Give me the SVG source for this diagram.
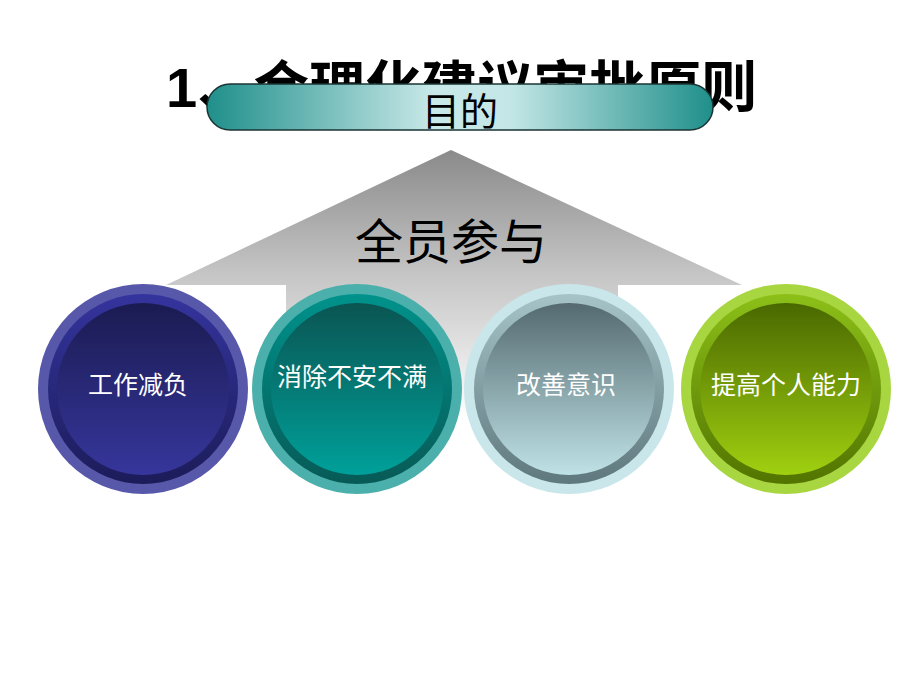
<svg xmlns="http://www.w3.org/2000/svg" width="920" height="690" viewBox="0 0 920 690">
<defs>
<style>
.cjk{font-family:"Liberation Sans","Noto Sans CJK SC",sans-serif}
.lbl{font-family:"Noto Sans CJK SC","Liberation Sans",sans-serif;font-size:25px;fill:#ffffff;text-anchor:middle}
</style>
<linearGradient id="arrowG" x1="0" y1="0" x2="0" y2="1">
<stop offset="0" stop-color="#8a8a8a"/><stop offset="0.45" stop-color="#c4c4c4"/><stop offset="1" stop-color="#ffffff"/>
</linearGradient>
<linearGradient id="pillG" x1="0" y1="0" x2="1" y2="0">
<stop offset="0" stop-color="#1f8f8a"/><stop offset="0.45" stop-color="#c9e9e9"/><stop offset="0.6" stop-color="#c3e6e6"/><stop offset="1" stop-color="#1f8f8a"/>
</linearGradient>
<linearGradient id="in1" x1="0" y1="0" x2="0" y2="1"><stop offset="0" stop-color="#1b1b52"/><stop offset="1" stop-color="#36369c"/></linearGradient>
<linearGradient id="ring1" x1="0" y1="0" x2="0" y2="1"><stop offset="0" stop-color="#34349e"/><stop offset="1" stop-color="#1c1c5a"/></linearGradient>
<linearGradient id="in2" x1="0" y1="0" x2="0" y2="1"><stop offset="0" stop-color="#0a5552"/><stop offset="1" stop-color="#00a09a"/></linearGradient>
<linearGradient id="ring2" x1="0" y1="0" x2="0" y2="1"><stop offset="0" stop-color="#00928c"/><stop offset="1" stop-color="#075a56"/></linearGradient>
<linearGradient id="in3" x1="0" y1="0" x2="0" y2="1"><stop offset="0" stop-color="#546a70"/><stop offset="1" stop-color="#bfe2e6"/></linearGradient>
<linearGradient id="ring3" x1="0" y1="0" x2="0" y2="1"><stop offset="0" stop-color="#a6c4c8"/><stop offset="1" stop-color="#5f787e"/></linearGradient>
<linearGradient id="in4" x1="0" y1="0" x2="0" y2="1"><stop offset="0" stop-color="#4a6800"/><stop offset="1" stop-color="#a0d010"/></linearGradient>
<linearGradient id="ring4" x1="0" y1="0" x2="0" y2="1"><stop offset="0" stop-color="#8cc018"/><stop offset="1" stop-color="#527400"/></linearGradient>
</defs>
<rect width="920" height="690" fill="#ffffff"/>

<g id="title">
<text x="166" y="107" class="cjk" font-size="56" font-weight="bold" fill="#000">1、合理化建议审批原则</text>
</g>

<g id="arrow">
<path d="M451,150 L742,285 L618,285 L618,420 L286,420 L286,285 L166,285 Z" fill="url(#arrowG)"/>
<text x="451" y="259" class="cjk" font-size="48" fill="#000" text-anchor="middle">全员参与</text>
</g>

<g id="purpose">
<rect x="207" y="84" width="506" height="46" rx="23" ry="23" fill="url(#pillG)" stroke="#1b3434" stroke-width="1.5"/>
<text x="460" y="125" class="cjk" font-size="38" fill="#000" text-anchor="middle">目的</text>
</g>

<g id="node1">
<circle cx="143" cy="389" r="105" fill="#5858aa"/>
<circle cx="143" cy="389" r="95" fill="url(#ring1)"/>
<circle cx="143" cy="389" r="86" fill="url(#in1)"/>
<text x="138" y="394" class="lbl">工作减负</text>
</g>

<g id="node2">
<circle cx="357" cy="389" r="105" fill="#4bb0ab"/>
<circle cx="357" cy="389" r="95" fill="url(#ring2)"/>
<circle cx="357" cy="389" r="86" fill="url(#in2)"/>
<text x="352" y="386" class="lbl">消除不安不满</text>
</g>

<g id="node3">
<circle cx="569" cy="389" r="105" fill="#c9e6ea"/>
<circle cx="569" cy="389" r="95" fill="url(#ring3)"/>
<circle cx="569" cy="389" r="86" fill="url(#in3)"/>
<text x="566" y="394" class="lbl">改善意识</text>
</g>

<g id="node4">
<circle cx="786" cy="389" r="105" fill="#a8d640"/>
<circle cx="786" cy="389" r="95" fill="url(#ring4)"/>
<circle cx="786" cy="389" r="86" fill="url(#in4)"/>
<text x="786" y="394" class="lbl">提高个人能力</text>
</g>

<g id="connectors"></g>
</svg>
